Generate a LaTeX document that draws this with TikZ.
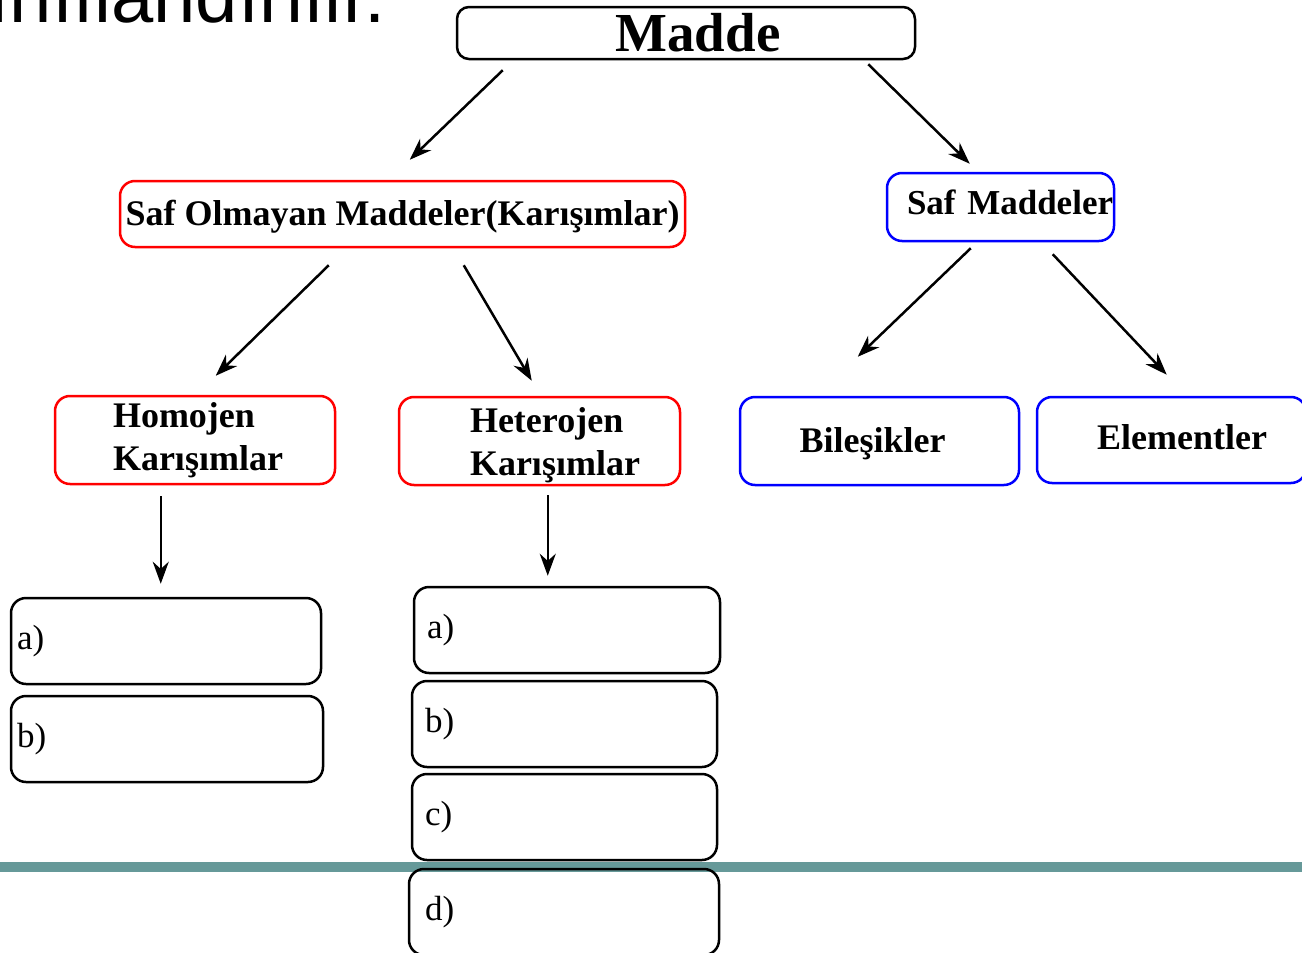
\documentclass[tikz,border=0pt]{standalone}
\usepackage{fontspec}
\setmainfont{Liberation Serif}
\newfontfamily\basfont{Liberation Sans}
\usetikzlibrary{arrows.meta,calc}

\definecolor{cizgi}{RGB}{102,153,153}

\begin{document}
\begin{tikzpicture}[x = 1pt, y = -1pt,
    kutu/.style = {draw, line width = 2.5pt, rounded corners = 15pt, inner sep = 0pt,
                   minimum height = 86pt, font = \fontsize{36}{43}\selectfont\bfseries},
    kirmizi/.style = {kutu, draw = red},
    mavi/.style = {kutu, draw = blue},
    bos/.style = {kutu, font = \fontsize{35}{42}\selectfont, align = left},
    tb/.style = {text height = #1, text depth = 0pt},
    ok/.style = {-{Stealth[length = 22pt, width = 16pt]}, line width = 2.5pt}]
  \useasboundingbox (0, 0) rectangle (1302, 953);
  \clip (0, 0) rectangle (1302, 953);

  \fill [cizgi] (0, 862) rectangle (1302, 872);

  \node [anchor = base east, inner sep = 0pt, font = \basfont\fontsize{76}{76}\selectfont] (baslik) at (386, 23) {sınıflandırılır.};

  \node [kutu, rounded corners = 12pt, minimum width = 458pt, minimum height = 52pt, font = \fontsize{55}{60}\selectfont\bfseries] (madde) at (686, 33) {\hspace*{24pt}Madde};

  \node [kirmizi, tb = 22pt, minimum width = 565pt, minimum height = 66pt] (safol) at (402.5, 214) {Saf Olmayan Maddeler(Karışımlar)};
  \node [mavi, tb = 14pt, minimum height = 68pt, inner xsep = 20pt, text width = 187pt, align = left, font = \fontsize{35}{42}\selectfont\bfseries] (safm) at (1000.5, 207) {\mbox{Saf Maddeler}};

  \node [kirmizi, minimum height = 88pt, inner xsep = 58pt, text width = 164pt, align = left] (homo) at (195, 440) {Homojen\\Karışımlar};
  \node [kirmizi, minimum height = 88pt, inner xsep = 71pt, text width = 139pt, align = left] (hetero) at (539.5, 441) {\rule{0pt}{33pt}Heterojen\\Karışımlar};
  \node [mavi, tb = 22pt, minimum width = 279pt, minimum height = 88pt] (bilesik) at (879.5, 441) {Bileşikler\hspace*{14pt}};
  \node [mavi, tb = 18pt, minimum width = 269pt] (element) at (1171.5, 440) {\hspace*{21pt}Elementler};

  % homojen icin
  \node [bos, inner xsep = 6pt, text width = 298pt] (ha) at (166, 641) {a)};
  \node [bos, inner xsep = 6pt, text width = 300pt] (hb) at (167, 739) {b)};
  % heterojen icin
  \node [bos, inner xsep = 13pt, text width = 280pt] (ta) at (567, 630) {a)};
  \node [bos, inner xsep = 13pt, text width = 279pt] (tb) at (564.5, 724) {b)};
  \node [bos, inner xsep = 13pt, text width = 279pt] (tc) at (564.5, 817) {c)};
  \node [bos, inner xsep = 16pt, text width = 278pt] (td) at (564, 912) {d)};

  \draw [ok] ($(madde.south west) + (47, 10)$) -- ($(safol.north west) + (291, -20)$);
  \draw [ok] ($(madde.south east) + (-48, 4)$) -- ($(safm.north west) + (84, -8)$);
  \draw [ok] ($(safol.south west) + (210, 17)$) -- ($(homo.north west) + (162, -19)$);
  \draw [ok] ($(safol.south west) + (345, 17)$) -- ($(hetero.north west) + (134, -15)$);
  \draw [ok] ($(safm.south west) + (85, 6)$) -- ($(bilesik.north west) + (119, -39)$);
  \draw [ok] ($(safm.south west) + (167, 12)$) -- ($(element.north west) + (131, -21)$);
  \draw [ok] ($(homo.south west) + (107, 11)$) -- ($(ha.north west) + (151, -13)$);
  \draw [ok] ($(hetero.south west) + (150, 9)$) -- ($(ta.north west) + (135, -10)$);
\end{tikzpicture}
\end{document}
